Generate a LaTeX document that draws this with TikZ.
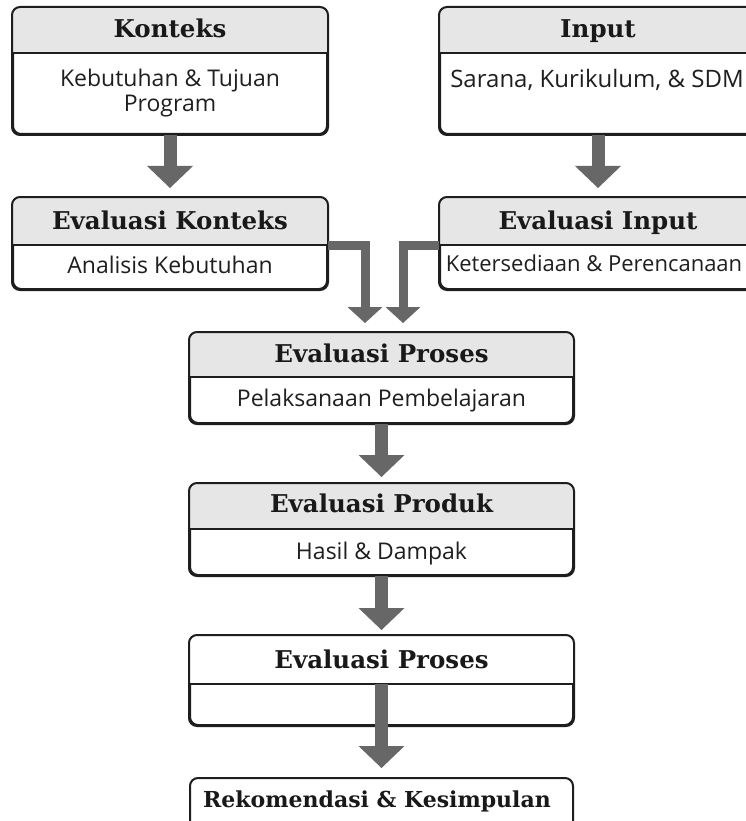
\documentclass[tikz,border=0pt]{standalone}
\usepackage{fontspec}
\setmainfont{DejaVu Serif}
\setsansfont{Open Sans}
\usetikzlibrary{positioning,calc,arrows.meta}

\definecolor{headgray}{HTML}{E6E6E6}
\definecolor{arrowgray}{HTML}{676767}
\definecolor{framegray}{HTML}{1E1E1E}

\tikzset{
  boxframe/.style={draw=framegray, line width=2pt, rounded corners=8pt, fill=white, inner sep=0pt},
  divider/.style={draw=framegray, line width=1.6pt},
  headtext/.style={font=\fontsize{24.5}{28}\selectfont\bfseries, text=black!90, anchor=base},
  bodytext/.style={font=\sffamily\fontsize{23}{25}\selectfont, text=black!88, align=center, anchor=base},
  bigarrow/.style={draw=arrowgray, line width=13pt, -{Triangle[width=46pt,length=22pt,line width=0pt]}},
  linkarrow/.style={draw=arrowgray, line width=9pt, line join=miter, -{Triangle[width=35pt,length=16pt,line width=0pt]}},
}

% box with shaded header band: name, north point, width, height, header height, header fill
\newcommand{\cippbox}[6]{%
  \node[boxframe, minimum width=#3, minimum height=#4, anchor=north] (#1) at #2 {};
  \begin{scope}
    \clip[rounded corners=8pt] (#1.north west) rectangle (#1.south east);
    \fill[#6] (#1.north west) rectangle ([yshift=-#5]#1.north east);
  \end{scope}
  \draw[divider] ([yshift=-#5]#1.north west) -- ([yshift=-#5]#1.north east);
  \draw[draw=framegray, line width=2pt, rounded corners=8pt] (#1.north west) rectangle (#1.south east);
}

\begin{document}
\begin{tikzpicture}[x=1pt, y=-1pt]

    \useasboundingbox (0,0) rectangle (745,821);
    \fill[white] (0,0) rectangle (745,821);

    % top row
    \cippbox{kon}{(170,7)}{314pt}{126pt}{46pt}{headgray}
    \cippbox{inp}{(598,7)}{316pt}{126pt}{46pt}{headgray}
    \node[headtext] (kon-title) at (170,38) {Konteks};
    \node[bodytext] (kon-text) at (170,112) {Kebutuhan \& Tujuan\\Program};
    \node[headtext] (inp-title) at (598,38) {Input};
    \node[bodytext, font=\sffamily\fontsize{24}{25}\selectfont] (inp-text) at (597,88) {Sarana, Kurikulum, \& SDM};

    % evaluation row
    \cippbox{ekon}{(170,197)}{314pt}{91pt}{48pt}{headgray}
    \cippbox{einp}{(598,197)}{316pt}{91pt}{48pt}{headgray}
    \node[headtext] (ekon-title) at (170,229) {Evaluasi Konteks};
    \node[bodytext] (ekon-text) at (170,273) {Analisis Kebutuhan};
    \node[headtext] (einp-title) at (598,229) {Evaluasi Input};
    \node[bodytext, font=\sffamily\fontsize{22}{25}\selectfont] (einp-text) at (594,271) {Ketersediaan \& Perencanaan};

    % middle column
    \cippbox{pros}{(381.5,332)}{383pt}{90pt}{45pt}{headgray}
    \node[headtext] (pros-title) at (381.5,362) {Evaluasi Proses};
    \node[bodytext] (pros-text) at (381.5,406) {Pelaksanaan Pembelajaran};

    \cippbox{prod}{(381.5,483)}{383pt}{91pt}{46pt}{headgray}
    \node[headtext] (prod-title) at (381.5,512) {Evaluasi Produk};
    \node[bodytext] (prod-text) at (381.5,559) {Hasil \& Dampak};

    \cippbox{pros2}{(381.5,635)}{383pt}{89pt}{49pt}{white}
    \node[headtext] (pros2-title) at (381.5,668) {Evaluasi Proses};

    \node[boxframe, minimum width=383pt, minimum height=80pt, anchor=north] (rek) at (381.5,777) {};
    \node[headtext, font=\fontsize{22}{26}\selectfont\bfseries] (rek-title) at (377,807) {Rekomendasi \& Kesimpulan};

    % arrows
    \draw[bigarrow, shorten >=9pt] (kon) -- (ekon);
    \draw[bigarrow, shorten >=9pt] (inp) -- (einp);

    \coordinate (ekon-out) at ([yshift=-48pt]ekon.north east);
    \coordinate (einp-out) at ([yshift=-48pt]einp.north west);
    \coordinate (pros-inL) at ([xshift=-16.5pt,yshift=9pt]pros.north);
    \coordinate (pros-inR) at ([xshift=21.5pt,yshift=9pt]pros.north);
    \draw[linkarrow] (ekon-out) -| (pros-inL);
    \draw[linkarrow] (einp-out) -| (pros-inR);

    \draw[bigarrow, shorten >=6pt] (pros) -- (prod);
    \draw[bigarrow, shorten >=5pt] (prod) -- (pros2);
    \coordinate (pros2-mid) at ([yshift=-49pt]pros2.north);
    \draw[bigarrow, shorten >=9pt] (pros2-mid) -- (rek);

\end{tikzpicture}
\end{document}
